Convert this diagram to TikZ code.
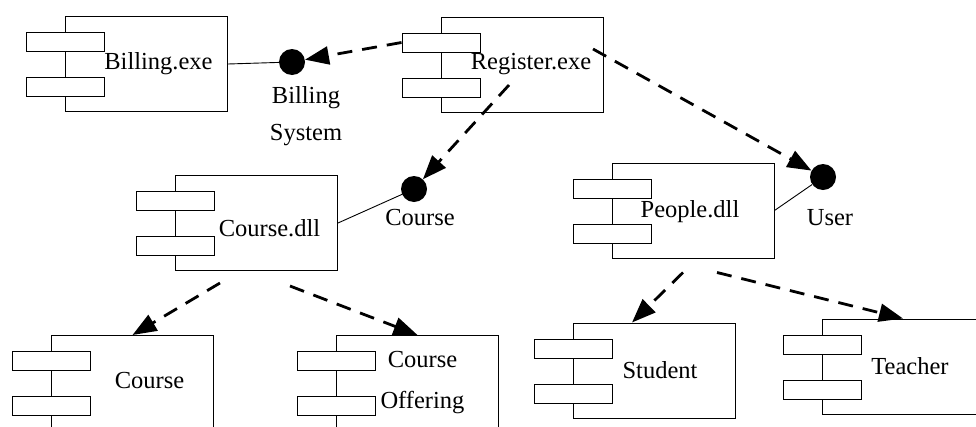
\documentclass[tikz,border=0pt]{standalone}
\usepackage{fontspec}
\setmainfont{Liberation Serif}
\usetikzlibrary{arrows.meta}

% two small tabs on the left side of a component box
\newcommand\comptabs[1]{%
  \node[tabbox] (#1-t1) at ([shift={(-39,16)}]#1.north west) {};
  \node[tabbox] (#1-t2) at ([shift={(-39,61)}]#1.north west) {};
}

\begin{document}
\begin{tikzpicture}[x=1pt,y=-1pt,
  every node/.style={font=\fontsize{24.5}{30}\selectfont},
  comp/.style={draw, line width=1pt, minimum width=162pt, minimum height=95pt, inner sep=0pt},
  tabbox/.style={draw, fill=white, line width=1pt, minimum width=78pt, minimum height=19pt,
                 inner sep=0pt, anchor=north west},
  iface/.style={circle, fill=black, minimum size=26pt, inner sep=0pt},
  dep/.style={line width=2.8pt, dash pattern=on 15pt off 10pt,
              -{Triangle[length=24pt,width=18pt]}},
  link/.style={line width=0.9pt},
]
\fill[white] (0,0) rectangle (976,426);
\useasboundingbox (0,0) rectangle (976,426);
\clip (0,0) rectangle (976,426);

% components
\node[comp, label={[xshift=12pt]center:Billing.exe}] (bill) at (146.5,64) {};
\comptabs{bill}
\node[comp, label={[xshift=9pt]center:Register.exe}] (reg) at (522,64.5) {};
\comptabs{reg}
\node[comp, label={[xshift=13pt,yshift=-5pt]center:Course.dll}] (cdll) at (256.5,223) {};
\comptabs{cdll}
\node[comp, label={[xshift=-3pt,yshift=-1pt]center:People.dll}] (people) at (693,210.5) {};
\comptabs{people}
\node[comp, label={[xshift=17pt,yshift=3pt]center:Course}] (course) at (132.5,383) {};
\comptabs{course}
\node[comp, label={[xshift=5pt,align=center,font=\fontsize{24.5}{41}\selectfont]center:Course\\Offering}] (coff) at (417.5,383) {};
\comptabs{coff}
\node[comp, label={[xshift=6pt]center:Student}] (student) at (654,370.5) {};
\comptabs{student}
\node[comp, label={[xshift=7pt]center:Teacher}] (teacher) at (903,366.5) {};
\comptabs{teacher}

% interfaces
\node[iface] (billsys) at (292,62) {};
\node[align=center, font=\fontsize{24.5}{37}\selectfont] (billsyslbl) at (306,116.5) {Billing\\System};
\node[iface] (ciface) at (414,189) {};
\node (cifacelbl) at (420,218) {Course};
\node[iface] (user) at (823,177) {};
\node (userlbl) at (830,218) {User};

% realisation links
\draw[link] (bill.east) -- (billsys);
\draw[link] (cdll.east) -- (ciface);
\draw[link] (people.east) -- (user);

% dependencies
\draw[dep] (reg-t1.west) -- (billsys);
\coordinate (regA) at ([shift={(-13,20.5)}]reg.center);
\draw[dep] (regA) -- (ciface);
\coordinate (regB) at ([shift={(71,-15.5)}]reg.center);
\draw[dep] (regB) -- (user);
\coordinate (cdllA) at ([shift={(-36.5,12)}]cdll.south);
\draw[dep] (cdllA) -- (course.north);
\coordinate (cdllB) at ([shift={(33.5,15)}]cdll.south);
\draw[dep] (cdllB) -- (coff.north);
\coordinate (peopleA) at ([shift={(-10,14)}]people.south);
\coordinate (studentTop) at ([shift={(-22,0)}]student.north);
\draw[dep] (peopleA) -- (studentTop);
\coordinate (peopleB) at ([shift={(24,14)}]people.south);
\draw[dep] (peopleB) -- (teacher.north);
\end{tikzpicture}
\end{document}
